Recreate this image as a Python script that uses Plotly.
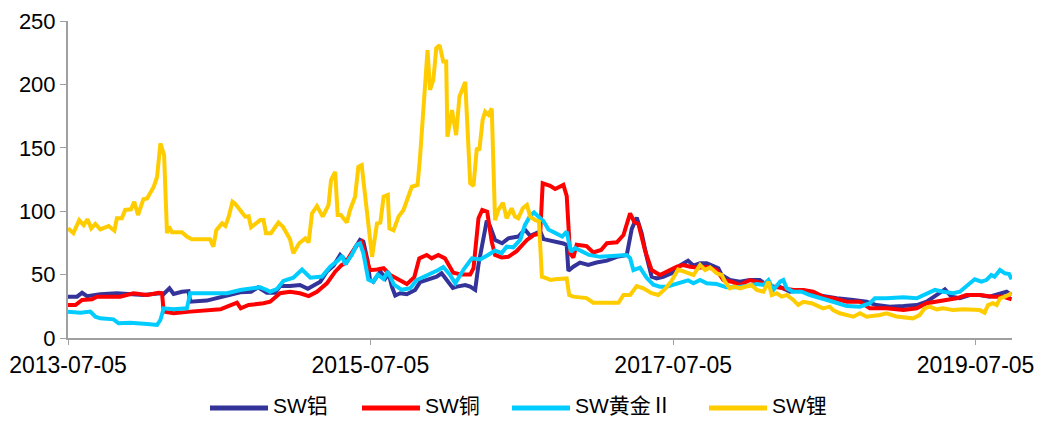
import plotly.graph_objects as go

# ---- data -------------------------------------------------------------
series_names = ["SW铝", "SW铜", "SW黄金Ⅱ", "SW锂"]
tick_dates = ["2013-07-05", "2015-07-05", "2017-07-05", "2019-07-05"]
y_ticks = [0, 50, 100, 150, 200, 250]

al_dates = [
    "2013-07-05", "2013-07-27", "2013-08-08", "2013-08-20", "2013-09-21", "2013-10-31",
    "2014-01-03", "2014-02-13", "2014-02-21", "2014-03-07", "2014-03-17", "2014-04-06",
    "2014-04-22", "2014-04-26", "2014-06-05", "2014-06-30", "2014-07-27", "2014-08-25",
    "2014-09-20", "2014-10-07", "2014-10-28", "2014-11-17", "2014-11-29", "2014-12-23",
    "2015-01-16", "2015-02-04", "2015-03-06", "2015-03-22", "2015-04-07", "2015-04-23",
    "2015-05-09", "2015-05-25", "2015-06-10", "2015-06-18", "2015-06-28", "2015-07-04",
    "2015-07-12", "2015-07-29", "2015-08-10", "2015-08-18", "2015-08-26", "2015-09-03",
    "2015-09-15", "2015-10-01", "2015-10-21", "2015-11-02", "2015-11-26", "2015-12-12",
    "2015-12-24", "2016-01-05", "2016-01-20", "2016-01-30", "2016-02-19", "2016-03-02",
    "2016-03-14", "2016-03-22", "2016-04-03", "2016-04-11", "2016-04-19", "2016-05-01",
    "2016-05-18", "2016-06-02", "2016-06-26", "2016-07-12", "2016-07-25", "2016-08-18",
    "2016-08-26", "2016-09-19", "2016-10-13", "2016-10-21", "2016-10-25", "2016-11-06",
    "2016-11-22", "2016-12-12", "2017-01-01", "2017-01-26", "2017-02-19", "2017-03-15",
    "2017-03-27", "2017-04-08", "2017-04-20", "2017-05-02", "2017-05-14", "2017-05-26",
    "2017-06-11", "2017-07-01", "2017-07-21", "2017-08-10", "2017-08-23", "2017-09-08",
    "2017-09-24", "2017-10-10", "2017-10-22", "2017-10-30", "2017-11-19", "2017-12-13",
    "2018-01-06", "2018-01-30", "2018-02-23", "2018-03-19", "2018-04-13", "2018-05-07",
    "2018-05-31", "2018-06-24", "2018-07-18", "2018-08-04", "2018-09-13", "2018-10-15",
    "2018-11-08", "2018-12-10", "2019-01-12", "2019-02-13", "2019-03-09", "2019-04-02",
    "2019-04-22", "2019-05-08", "2019-05-28", "2019-06-21", "2019-07-15", "2019-08-08",
    "2019-09-02", "2019-09-18", "2019-09-30",
]
al_values = [
    32.6, 32.6, 35.7, 33.0, 34.5, 35.3,
    33.9, 35.3, 34.7, 39.2, 34.7, 36.5,
    37.0, 28.6, 29.5, 31.3, 33.9, 36.0,
    36.5, 40.0, 35.7, 35.7, 41.0, 41.0,
    41.8, 38.8, 44.4, 52.5, 57.0, 65.5,
    60.0, 69.4, 77.3, 76.0, 61.5, 46.0,
    44.4, 52.5, 47.0, 51.0, 40.5, 33.5,
    35.3, 34.5, 37.9, 44.0, 47.0, 48.3,
    51.0, 46.0, 39.5, 40.5, 41.8, 40.5,
    37.9, 58.0, 78.0, 92.5, 88.0, 77.3,
    74.7, 78.6, 80.0, 85.5, 80.5, 84.0,
    78.0, 76.5, 74.5, 73.3, 53.0, 56.2,
    59.5, 57.6, 59.5, 61.0, 64.0, 65.5,
    86.0, 95.0, 82.6, 64.0, 48.3, 47.0,
    48.3, 51.0, 57.0, 61.0, 57.0, 59.0,
    59.0, 56.8, 55.0, 49.7, 45.7, 44.4,
    45.7, 45.7, 40.5, 40.5, 36.5, 37.9,
    36.5, 33.5, 31.8, 31.3, 30.0, 28.6,
    26.0, 24.7, 25.2, 26.0, 28.6, 33.9,
    38.4, 32.6, 31.3, 33.9, 33.9, 32.6,
    35.3, 36.5, 33.9,
]

cu_dates = [
    "2013-07-05", "2013-07-23", "2013-08-08", "2013-09-01", "2013-09-13", "2013-11-08",
    "2013-12-10", "2014-01-12", "2014-02-09", "2014-02-17", "2014-02-21", "2014-03-17",
    "2014-04-26", "2014-06-05", "2014-07-08", "2014-07-24", "2014-08-17", "2014-08-26",
    "2014-09-14", "2014-10-20", "2014-11-05", "2014-11-29", "2014-12-23", "2015-01-16",
    "2015-02-06", "2015-02-26", "2015-03-22", "2015-04-11", "2015-04-27", "2015-05-05",
    "2015-05-21", "2015-06-02", "2015-06-14", "2015-06-22", "2015-07-04", "2015-07-21",
    "2015-08-06", "2015-08-22", "2015-09-15", "2015-10-01", "2015-10-19", "2015-10-31",
    "2015-11-18", "2015-11-30", "2015-12-16", "2016-01-01", "2016-01-21", "2016-02-11",
    "2016-03-02", "2016-03-10", "2016-03-22", "2016-03-31", "2016-04-12", "2016-04-23",
    "2016-05-01", "2016-05-17", "2016-06-02", "2016-06-22", "2016-07-17", "2016-08-02",
    "2016-08-18", "2016-08-24", "2016-09-11", "2016-09-23", "2016-10-13", "2016-10-21",
    "2016-10-29", "2016-11-06", "2016-11-14", "2016-12-08", "2016-12-24", "2017-01-12",
    "2017-01-26", "2017-02-19", "2017-03-07", "2017-03-23", "2017-04-02", "2017-04-12",
    "2017-04-28", "2017-05-14", "2017-06-03", "2017-06-19", "2017-07-14", "2017-07-29",
    "2017-08-15", "2017-09-04", "2017-09-24", "2017-10-18", "2017-11-03", "2017-11-23",
    "2017-12-13", "2018-01-06", "2018-01-23", "2018-02-08", "2018-03-04", "2018-03-28",
    "2018-04-21", "2018-05-15", "2018-06-08", "2018-07-02", "2018-07-26", "2018-08-28",
    "2018-09-29", "2018-10-23", "2018-12-02", "2019-01-12", "2019-02-13", "2019-03-09",
    "2019-04-18", "2019-05-20", "2019-06-13", "2019-07-15", "2019-08-16", "2019-09-09",
    "2019-09-30",
]
cu_values = [
    26.0, 26.0, 30.0, 30.5, 32.6, 32.6,
    35.3, 33.9, 35.7, 35.3, 20.8, 19.5,
    20.8, 22.0, 22.6, 24.7, 27.8, 23.4,
    26.0, 27.4, 28.6, 35.3, 36.5, 35.3,
    33.1, 36.5, 43.1, 52.3, 57.6, 58.9,
    66.8, 73.3, 76.0, 66.8, 53.5, 54.0,
    55.0, 49.7, 45.7, 42.5, 48.0, 62.8,
    65.5, 62.8, 65.5, 62.8, 51.5, 50.0,
    50.0, 55.0, 94.5, 101.0, 99.6, 76.0,
    65.5, 63.5, 64.0, 68.5, 77.3, 81.2,
    82.5, 122.0, 120.0, 117.5, 120.7, 112.0,
    66.8, 63.5, 73.5, 72.5, 67.5, 69.4,
    74.7, 75.5, 81.2, 98.3, 91.5, 90.0,
    69.0, 53.6, 49.7, 52.5, 56.2, 57.6,
    56.2, 55.5, 56.2, 53.6, 45.7, 44.4,
    41.8, 45.7, 44.4, 43.1, 40.5, 39.2,
    37.9, 37.9, 36.5, 32.6, 31.3, 28.6,
    28.6, 23.4, 23.4, 22.0, 23.4, 27.4,
    30.0, 31.3, 33.9, 33.9, 32.6, 32.6,
    30.5,
]

au_dates = [
    "2013-07-05", "2013-08-04", "2013-08-28", "2013-09-09", "2013-09-21", "2013-10-23",
    "2013-11-04", "2013-12-02", "2014-01-12", "2014-02-05", "2014-02-13", "2014-02-21",
    "2014-03-17", "2014-04-18", "2014-04-26", "2014-07-24", "2014-08-25", "2014-09-20",
    "2014-10-12", "2014-10-28", "2014-11-05", "2014-11-21", "2014-12-07", "2014-12-31",
    "2015-01-21", "2015-02-10", "2015-03-10", "2015-03-30", "2015-04-19", "2015-04-28",
    "2015-05-05", "2015-05-21", "2015-06-02", "2015-06-10", "2015-06-18", "2015-06-30",
    "2015-07-12", "2015-07-23", "2015-08-06", "2015-08-16", "2015-08-31", "2015-09-19",
    "2015-10-09", "2015-10-25", "2015-11-14", "2015-11-30", "2015-12-16", "2015-12-28",
    "2016-01-13", "2016-01-26", "2016-02-15", "2016-03-06", "2016-03-26", "2016-04-14",
    "2016-05-01", "2016-05-17", "2016-05-29", "2016-06-14", "2016-07-01", "2016-07-12",
    "2016-07-25", "2016-08-03", "2016-08-14", "2016-08-26", "2016-09-07", "2016-09-23",
    "2016-10-10", "2016-10-21", "2016-10-31", "2016-11-10", "2016-11-22", "2016-12-14",
    "2017-01-10", "2017-02-11", "2017-03-15", "2017-03-23", "2017-03-31", "2017-04-16",
    "2017-05-02", "2017-05-18", "2017-06-03", "2017-06-19", "2017-07-05", "2017-07-21",
    "2017-08-10", "2017-08-23", "2017-09-08", "2017-09-24", "2017-10-18", "2017-11-11",
    "2017-12-05", "2017-12-29", "2018-01-23", "2018-02-08", "2018-02-20", "2018-03-04",
    "2018-03-20", "2018-03-28", "2018-04-05", "2018-04-21", "2018-05-11", "2018-05-31",
    "2018-06-24", "2018-07-26", "2018-08-28", "2018-09-29", "2018-10-23", "2018-11-04",
    "2018-12-02", "2019-01-12", "2019-02-13", "2019-03-01", "2019-03-29", "2019-04-18",
    "2019-05-12", "2019-05-28", "2019-06-13", "2019-07-03", "2019-07-19", "2019-07-31",
    "2019-08-12", "2019-08-20", "2019-09-02", "2019-09-14", "2019-09-24", "2019-09-30",
]
au_values = [
    20.8, 20.0, 20.8, 16.8, 15.5, 14.7,
    11.6, 12.1, 11.0, 10.3, 14.2, 23.4,
    22.6, 23.4, 35.3, 35.3, 37.9, 39.2,
    40.0, 37.9, 36.5, 38.5, 45.0, 47.5,
    54.0, 47.5, 48.5, 56.2, 61.5, 65.0,
    58.0, 65.5, 73.5, 74.7, 67.0, 46.0,
    44.4, 50.0, 46.5, 52.5, 42.0, 38.0,
    39.2, 45.7, 48.5, 51.0, 53.6, 56.0,
    50.0, 43.1, 54.0, 62.8, 62.0, 65.5,
    69.0, 67.0, 72.0, 71.5, 77.5, 89.0,
    96.5, 99.0, 96.0, 92.0, 85.5, 82.6,
    80.0, 83.8, 68.0, 71.0, 69.0, 65.5,
    64.0, 65.0, 65.5, 63.0, 53.5, 55.5,
    47.5, 42.0, 40.5, 40.5, 41.8, 43.1,
    45.5, 43.1, 45.7, 43.1, 42.6, 40.0,
    40.0, 41.0, 42.6, 41.8, 45.7, 37.9,
    44.4, 45.7, 39.2, 36.5, 36.5, 33.9,
    31.3, 28.6, 25.2, 24.7, 27.4, 31.3,
    31.3, 32.1, 31.3, 33.9, 37.9, 36.5,
    35.3, 36.5, 41.0, 46.3, 44.4, 45.7,
    49.7, 48.3, 53.6, 51.0, 50.5, 46.3,
]

li_dates = [
    "2013-07-05", "2013-07-18", "2013-08-01", "2013-08-12", "2013-08-21", "2013-08-30",
    "2013-09-09", "2013-09-21", "2013-10-11", "2013-10-25", "2013-10-31", "2013-11-12",
    "2013-11-20", "2013-12-04", "2013-12-12", "2013-12-21", "2014-01-03", "2014-01-12",
    "2014-01-28", "2014-02-05", "2014-02-13", "2014-02-22", "2014-03-01", "2014-03-06",
    "2014-03-13", "2014-04-06", "2014-04-18", "2014-04-30", "2014-06-13", "2014-06-21",
    "2014-06-28", "2014-07-12", "2014-07-20", "2014-07-28", "2014-08-06", "2014-08-13",
    "2014-09-06", "2014-09-14", "2014-09-20", "2014-10-12", "2014-10-20", "2014-10-26",
    "2014-11-07", "2014-11-25", "2014-12-06", "2014-12-23", "2014-12-31", "2015-01-14",
    "2015-01-29", "2015-02-06", "2015-02-14", "2015-02-26", "2015-03-12", "2015-03-26",
    "2015-04-01", "2015-04-11", "2015-04-17", "2015-04-25", "2015-05-09", "2015-05-17",
    "2015-05-29", "2015-06-06", "2015-06-14", "2015-06-26", "2015-07-09", "2015-07-21",
    "2015-07-29", "2015-08-06", "2015-08-16", "2015-08-20", "2015-08-30", "2015-09-11",
    "2015-09-23", "2015-10-13", "2015-10-27", "2015-11-02", "2015-11-20", "2015-11-26",
    "2015-12-04", "2015-12-11", "2015-12-19", "2015-12-28", "2016-01-04", "2016-01-07",
    "2016-01-18", "2016-01-28", "2016-02-05", "2016-02-19", "2016-03-02", "2016-03-10",
    "2016-03-18", "2016-03-24", "2016-04-01", "2016-04-07", "2016-04-15", "2016-04-23",
    "2016-05-01", "2016-05-09", "2016-05-20", "2016-05-29", "2016-06-10", "2016-06-18",
    "2016-06-26", "2016-07-07", "2016-07-17", "2016-07-25", "2016-08-06", "2016-08-15",
    "2016-08-22", "2016-09-03", "2016-09-12", "2016-09-23", "2016-10-21", "2016-10-27",
    "2016-11-06", "2016-12-08", "2016-12-24", "2017-02-23", "2017-03-07", "2017-03-23",
    "2017-04-08", "2017-04-24", "2017-05-14", "2017-05-30", "2017-06-15", "2017-07-01",
    "2017-07-17", "2017-08-07", "2017-08-23", "2017-09-08", "2017-09-20", "2017-10-02",
    "2017-10-18", "2017-10-30", "2017-11-07", "2017-11-19", "2017-12-01", "2017-12-13",
    "2017-12-29", "2018-01-10", "2018-01-23", "2018-02-08", "2018-02-20", "2018-02-28",
    "2018-03-12", "2018-03-24", "2018-04-05", "2018-04-21", "2018-05-03", "2018-05-15",
    "2018-06-04", "2018-06-20", "2018-07-02", "2018-07-18", "2018-07-26", "2018-08-11",
    "2018-08-28", "2018-09-13", "2018-09-29", "2018-10-15", "2018-11-16", "2018-12-02",
    "2018-12-26", "2019-01-19", "2019-02-04", "2019-02-20", "2019-03-04", "2019-03-16",
    "2019-04-02", "2019-04-18", "2019-05-12", "2019-06-05", "2019-06-29", "2019-07-15",
    "2019-07-27", "2019-08-04", "2019-08-16", "2019-08-25", "2019-09-02", "2019-09-14",
    "2019-09-30",
]
li_values = [
    86.5, 82.6, 93.0, 89.0, 93.6, 86.5,
    90.0, 85.7, 88.3, 84.6, 94.4, 94.4,
    101.0, 101.5, 107.5, 97.0, 109.4, 110.0,
    119.3, 127.0, 153.5, 144.3, 82.6, 87.8,
    83.4, 83.4, 80.0, 77.8, 77.8, 72.0,
    85.0, 90.4, 88.3, 95.7, 107.5, 105.7,
    95.7, 96.0, 87.3, 93.0, 93.0, 82.6,
    82.6, 91.0, 87.8, 77.8, 66.8, 74.7,
    78.6, 75.2, 98.3, 104.0, 95.7, 105.0,
    124.6, 131.0, 97.0, 97.0, 91.0, 101.0,
    111.4, 135.0, 136.4, 103.5, 64.0, 90.4,
    91.0, 111.4, 112.8, 86.5, 85.0, 95.7,
    101.0, 119.3, 120.7, 143.0, 227.0, 195.6,
    203.5, 228.5, 231.0, 218.0, 218.0, 158.8,
    179.8, 160.0, 190.3, 202.0, 122.0, 120.0,
    150.0, 148.0, 172.0, 178.5, 176.0, 181.0,
    93.0, 101.0, 106.7, 94.4, 102.3, 95.7,
    94.4, 102.3, 104.9, 95.7, 93.0, 92.0,
    48.3, 47.0, 45.7, 46.3, 47.0, 33.9,
    32.6, 31.5, 27.8, 27.8, 33.9, 33.9,
    41.0, 39.2, 35.3, 33.9, 38.5, 45.0,
    54.0, 51.5, 49.7, 57.6, 53.6, 55.7,
    51.0, 49.7, 44.4, 39.2, 40.5, 39.2,
    40.5, 41.8, 37.9, 36.5, 44.4, 33.9,
    35.3, 32.6, 33.9, 30.0, 26.0, 28.6,
    27.4, 24.7, 23.4, 24.7, 22.0, 19.5,
    18.1, 16.8, 19.5, 16.8, 18.1, 19.5,
    17.0, 16.5, 15.5, 18.1, 23.4, 24.7,
    22.6, 23.4, 22.0, 22.6, 22.6, 22.0,
    20.0, 26.0, 27.4, 26.0, 31.3, 32.6,
    35.3,
]

colors = ["#333399", "#FF0000", "#00CCFF", "#FFCC00"]
axis_grey = "#A0A0A0"
font_family = "Liberation Sans, Arial, Noto Sans CJK SC, sans-serif"

# ---- canvas geometry --------------------------------------------------
W, H = 1037, 421
M_L, M_R, M_T, M_B = 68, 25, 21, 83
PLOT_W = W - M_L - M_R
PLOT_H = H - M_T - M_B


def px_to_paper_x(px):
    return (px - M_L) / PLOT_W


def px_to_paper_y(py):
    return (H - M_B - py) / PLOT_H


# ---- figure -----------------------------------------------------------
fig = go.Figure()
for name, xs, ys, c in zip(
    series_names,
    [al_dates, cu_dates, au_dates, li_dates],
    [al_values, cu_values, au_values, li_values],
    colors,
):
    fig.add_trace(go.Scatter(
        x=xs, y=ys, name=name, mode="lines",
        line=dict(color=c, width=4),
        showlegend=False,
    ))

# legend drawn below the plot: a line sample followed by the series name
legend_line_x = [210, 362, 512, 709]
legend_line_len = 58
legend_line_y = 408
legend_text_y = 405
for name, c, lx in zip(series_names, colors, legend_line_x):
    fig.add_shape(
        type="line", xref="paper", yref="paper",
        x0=px_to_paper_x(lx), x1=px_to_paper_x(lx + legend_line_len),
        y0=px_to_paper_y(legend_line_y), y1=px_to_paper_y(legend_line_y),
        line=dict(color=c, width=5), layer="above",
    )
    fig.add_annotation(
        xref="paper", yref="paper",
        x=px_to_paper_x(lx + legend_line_len + 4), y=px_to_paper_y(legend_text_y),
        xanchor="left", yanchor="middle", showarrow=False,
        text=name, font=dict(size=21, color="black"), borderpad=0,
    )

fig.update_layout(
    width=W, height=H,
    margin=dict(l=M_L, r=M_R, t=M_T, b=M_B),
    paper_bgcolor="white", plot_bgcolor="white",
    font=dict(family=font_family, size=22, color="black"),
    showlegend=False,
    xaxis=dict(
        type="date", range=["2013-07-05", "2019-10-01"],
        tickmode="array", tickvals=tick_dates, ticktext=tick_dates,
        showline=True, linecolor=axis_grey, linewidth=2,
        ticks="outside", ticklen=5, tickcolor=axis_grey, tickwidth=1,
        showgrid=False, zeroline=False, automargin=False,
        tickfont=dict(size=23),
    ),
    yaxis=dict(
        range=[0, 250], tickmode="array", tickvals=y_ticks,
        showline=True, linecolor=axis_grey, linewidth=2,
        ticks="outside", ticklen=6, tickcolor=axis_grey, tickwidth=1,
        showgrid=False, zeroline=False, automargin=False,
        tickfont=dict(size=22),
    ),
)

fig.write_html("out.html")
